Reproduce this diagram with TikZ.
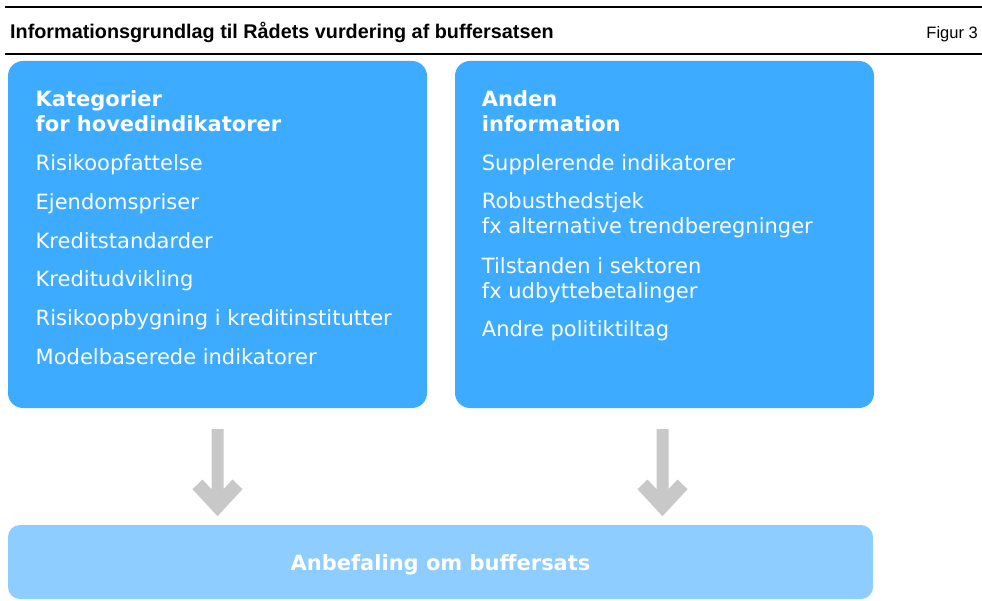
\documentclass[tikz,border=0pt]{standalone}
\usepackage{fontspec}
\setmainfont{DejaVu Sans}
\newfontfamily\titlefont{Liberation Sans}
\usetikzlibrary{calc}
\definecolor{boxblue}{RGB}{61,171,255}
\definecolor{lightblue}{RGB}{142,205,255}
\definecolor{arrowgray}{RGB}{200,200,200}
\tikzset{
  mainbox/.style={fill=boxblue, draw=none, rounded corners=15pt, minimum width=419pt, minimum height=347pt, inner sep=0pt},
  resultbox/.style={fill=lightblue, draw=none, rounded corners=12pt, minimum width=865pt, minimum height=74pt, inner sep=0pt},
  resulttext/.style={anchor=base, inner sep=0pt, text=white, font=\fontsize{21}{25}\selectfont\bfseries},
  head/.style={anchor=base west, inner sep=0pt, text=white, font=\fontsize{21}{25}\selectfont\bfseries},
  item/.style={anchor=base west, inner sep=0pt, text=white, font=\fontsize{21}{25}\selectfont},
  rulebar/.style={line width=2.4pt, black},
}
\newcommand{\grayarrow}[1]{%
  \fill[arrowgray] ($(#1)+(-6,0)$) -- ($(#1)+(6,0)$) -- ($(#1)+(6,60)$) -- ($(#1)+(15,50.3)$) -- ($(#1)+(25,60)$) -- ($(#1)+(0,87)$) -- ($(#1)+(-25,60)$) -- ($(#1)+(-15,50.3)$) -- ($(#1)+(-6,60)$) -- cycle;}
\begin{document}
\begin{tikzpicture}[x=1pt,y=-1pt]
\useasboundingbox (0,0) rectangle (982,601);
% rules
\coordinate (r1a) at (5,7); \coordinate (r1b) at (982,7);
\coordinate (r2a) at (5,54.3); \coordinate (r2b) at (982,54.3);
\draw[rulebar] (r1a) -- (r1b);
\draw[rulebar, line width=2pt] (r2a) -- (r2b);
\node[anchor=base west, inner sep=0pt, font=\titlefont\fontsize{19.8}{22}\selectfont\bfseries] (title) at (10,38.5) {Informationsgrundlag til Rådets vurdering af buffersatsen};
\node[anchor=base east, inner sep=0pt, font=\titlefont\fontsize{16.5}{18}\selectfont] (fig) at (978,38.5) {Figur 3};
% boxes
\node[mainbox] (L) at (217.5,234.5) {};
\node[mainbox] (R) at (664.5,234.5) {};
\node[resultbox] (B) at (440.5,562) {};
\node[resulttext] (bt) at (440.5,570.5) {Anbefaling om buffersats};
% left text
\node[head] (lh1) at (35.5,106.7) {Kategorier};
\node[head] (lh2) at (35.5,131.7) {for hovedindikatorer};
\node[item] (l1) at (35.5,171) {Risikoopfattelse};
\node[item] (l2) at (35.5,209.5) {Ejendomspriser};
\node[item] (l3) at (35.5,248.2) {Kreditstandarder};
\node[item] (l4) at (35.5,287) {Kreditudvikling};
\node[item] (l5) at (35.5,325.7) {Risikoopbygning i kreditinstitutter};
\node[item] (l6) at (35.5,364.3) {Modelbaserede indikatorer};
% right text
\node[head] (rh1) at (481.7,106.7) {Anden};
\node[head] (rh2) at (481.7,131.7) {information};
\node[item] (r1) at (481.7,171) {Supplerende indikatorer};
\node[item] (r2) at (481.7,209) {Robusthedstjek};
\node[item] (r2b) at (481.7,233.5) {fx alternative trendberegninger};
\node[item] (r3) at (481.7,273.3) {Tilstanden i sektoren};
\node[item] (r3b) at (481.7,298.3) {fx udbyttebetalinger};
\node[item] (r4) at (481.7,336.7) {Andre politiktiltag};
% arrows
\coordinate (a1) at ($(L.south)+(0,21)$);
\coordinate (a2) at ($(R.south)+(-2,21)$);
\grayarrow{a1}
\grayarrow{a2}
\end{tikzpicture}
\end{document}
